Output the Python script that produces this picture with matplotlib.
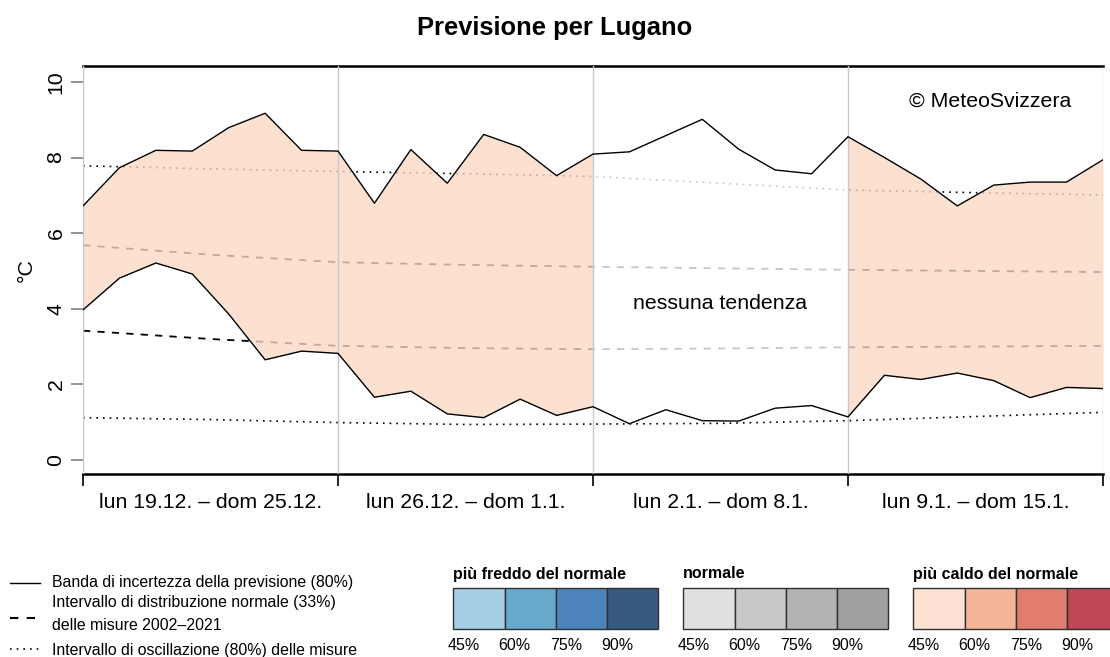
import matplotlib
matplotlib.use("Agg")
import matplotlib.pyplot as plt
from matplotlib.lines import Line2D
from matplotlib.patches import Rectangle
import numpy as np

plt.rcParams['font.family'] = ['Liberation Sans', 'DejaVu Sans']

# ---------------- data ----------------
days = list(range(29))
upper = [6.72, 7.73, 8.19, 8.17, 8.79, 9.17, 8.19, 8.17,
         6.79, 8.21, 7.32, 8.61, 8.27, 7.52, 8.09,
         8.15, 8.58, 9.01, 8.22, 7.67, 7.57, 8.55,
         8.00, 7.43, 6.72, 7.27, 7.35, 7.35, 7.94]
lower = [3.97, 4.81, 5.21, 4.92, 3.86, 2.65, 2.88, 2.82,
         1.66, 1.82, 1.22, 1.12, 1.61, 1.18, 1.41,
         0.96, 1.33, 1.04, 1.03, 1.37, 1.44, 1.14,
         2.24, 2.13, 2.30, 2.10, 1.65, 1.92, 1.89]

clim_days = [0, 3.5, 7, 10.5, 14, 17.5, 21, 24.5, 28]
clim_p90 = [7.78, 7.70, 7.63, 7.57, 7.50, 7.32, 7.14, 7.07, 7.01]
clim_p67 = [5.68, 5.43, 5.23, 5.16, 5.11, 5.07, 5.03, 5.00, 4.97]
clim_p33 = [3.42, 3.20, 3.02, 2.96, 2.93, 2.95, 2.98, 3.00, 3.02]
clim_p10 = [1.12, 1.07, 0.99, 0.94, 0.95, 0.97, 1.04, 1.15, 1.26]

week_edges = [0, 7, 14, 21, 28]
week_labels = ["lun 19.12. – dom 25.12.", "lun 26.12. – dom 1.1.",
               "lun 2.1. – dom 8.1.", "lun 9.1. – dom 15.1."]
week_signal = ["warm", "warm", "none", "warm"]

cold_colors = ["#a6cfe3", "#67a8cd", "#4d83bc", "#375a80"]
norm_colors = ["#e0e0e0", "#c8c8c8", "#b3b3b3", "#a0a0a0"]
warm_colors = ["#fde1d2", "#f5b598", "#e07d6e", "#c04756"]
pct_labels = ["45%", "60%", "75%", "90%"]

# ---------------- figure ----------------
W, H = 1110, 657
fig = plt.figure(figsize=(W / 100, H / 100), dpi=100)

def fx(px):
    return px / W

def fy(py):
    return 1 - py / H

ax = fig.add_axes([fx(83), fy(474), fx(1103) - fx(83), fy(66) - fy(474)])
ax.set_xlim(0, 28)
ax.set_ylim(-0.37, 10.42)

# climatology lines (drawn below the band, band fill is semi-transparent)
dot = (0, (1, 3))
dash = (0, (4, 4))
ax.plot(clim_days, clim_p90, color="black", lw=1.2, linestyle=dot, zorder=1)
ax.plot(clim_days, clim_p10, color="black", lw=1.2, linestyle=dot, zorder=1)
ax.plot(clim_days, clim_p67, color="black", lw=1.3, linestyle=dash, zorder=1)
ax.plot(clim_days, clim_p33, color="black", lw=1.3, linestyle=dash, zorder=1)

alpha = 0.78
fill_warm = np.array(matplotlib.colors.to_rgb(warm_colors[0]))
fill_warm_base = np.clip((fill_warm - (1 - alpha)) / alpha, 0, 1)
up = np.array(upper)
lo = np.array(lower)
d = np.array(days)
for i, sig in enumerate(week_signal):
    a, b = week_edges[i], week_edges[i + 1]
    m = (d >= a) & (d <= b)
    col = tuple(fill_warm_base) if sig == "warm" else (1, 1, 1)
    ax.fill_between(d[m], lo[m], up[m], color=col, alpha=alpha, lw=0, zorder=2)

ax.plot(days, upper, color="black", lw=1.0, zorder=4)
ax.plot(days, lower, color="black", lw=1.0, zorder=4)

for xe in week_edges:
    ax.axvline(xe, color="#c8c8c8", lw=1.0, zorder=3)

ax.text(17.5, 4.13, "nessuna tendenza", ha="center", va="center", fontsize=15.3, zorder=5)
ax.text(24.9, 9.5, "© MeteoSvizzera", ha="center", va="center", fontsize=15.3, zorder=5)

# spines
for s in ["left", "right"]:
    ax.spines[s].set_visible(False)
ax.spines["top"].set_color("black")
ax.spines["top"].set_linewidth(1.8)
ax.spines["bottom"].set_color("black")
ax.spines["bottom"].set_linewidth(1.8)

# y axis
ax.set_yticks([0, 2, 4, 6, 8, 10])
ax.set_yticklabels(["0", "2", "4", "6", "8", "10"], rotation=90, va="center")
ax.tick_params(axis="y", length=8.6, width=1.2, color="#808080", labelsize=15.3, pad=4)
ax.set_ylabel("°C", fontsize=15.3, labelpad=8)

# x axis
ax.set_xticks(week_edges)
ax.set_xticklabels([])
ax.tick_params(axis="x", which="major", length=8.6, width=1.2, color="black")
ax.set_xticks([3.5, 10.5, 17.5, 24.5], minor=True)
ax.set_xticklabels(week_labels, minor=True)
ax.tick_params(axis="x", which="minor", length=0, labelsize=15.3, pad=14)

fig.text(0.5, fy(28), "Previsione per Lugano", ha="center", va="center",
         fontsize=18.4, fontweight="bold")

# ---------------- bottom-left legend ----------------
lx0, lx1, tx = 10, 40, 52
leg_fs = 11.4
fig.add_artist(Line2D([fx(lx0), fx(lx1)], [fy(583), fy(583)], color="black", lw=1.0))
fig.text(fx(tx), fy(583), "Banda di incertezza della previsione (80%)", va="center", fontsize=leg_fs)
fig.add_artist(Line2D([fx(lx0), fx(lx1)], [fy(618), fy(618)], color="black", lw=1.5, linestyle=dash))
fig.text(fx(tx), fy(603), "Intervallo di distribuzione normale (33%)", va="center", fontsize=leg_fs)
fig.text(fx(tx), fy(626), "delle misure 2002–2021", va="center", fontsize=leg_fs)
fig.add_artist(Line2D([fx(lx0), fx(lx1)], [fy(649), fy(649)], color="black", lw=1.2, linestyle=dot))
fig.text(fx(tx), fy(650), "Intervallo di oscillazione (80%) delle misure", va="center", fontsize=leg_fs)

# ---------------- colour legend ----------------
groups = [("più freddo del normale", cold_colors, 453.3),
          ("normale", norm_colors, 683.3),
          ("più caldo del normale", warm_colors, 913.3)]
cell_w = 51.25
box_top, box_bot = 588.3, 629.3
for title, cols, x0 in groups:
    fig.text(fx(x0), fy(574), title, va="center", ha="left", fontsize=11.5, fontweight="bold")
    for k, c in enumerate(cols):
        r = Rectangle((fx(x0 + k * cell_w), fy(box_bot)), fx(cell_w), fy(box_top) - fy(box_bot),
                      facecolor=c, edgecolor="#303030", lw=1.0, transform=fig.transFigure)
        fig.add_artist(r)
        fig.text(fx(x0 + k * cell_w + 10), fy(645), pct_labels[k], ha="center", va="center", fontsize=11.5)

fig.savefig("out.png", dpi=100)
